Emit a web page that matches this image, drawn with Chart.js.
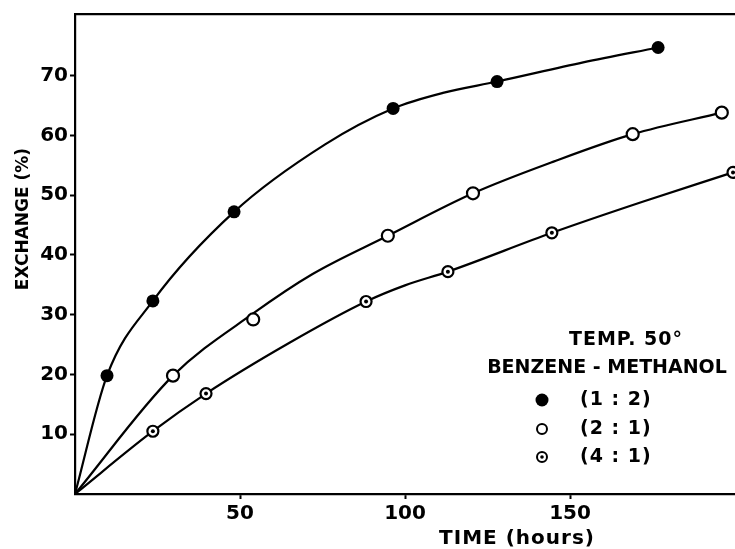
<!doctype html>
<meta charset="utf-8">
<style>
    html, body { margin: 0; padding: 0; background: #fff; }
</style>
<script src="https://cdn.jsdelivr.net/npm/chart.js@4.4.8/dist/chart.umd.min.js"></script>

<canvas id="chart" width="735" height="549"></canvas>

<script>
    // (1:2) filled circles
    const hours12 = [9.7, 23.6, 48.2, 96.4, 127.9, 176.7];
    const exch12 = [19.8, 32.3, 47.2, 64.5, 69, 74.7];
    // (2:1) open circles
    const hours21 = [29.7, 54, 94.8, 120.6, 169, 196];
    const exch21 = [19.8, 29.2, 43.2, 50.3, 60.2, 63.8];
    // (4:1) dotted circles
    const hours41 = [23.6, 39.7, 88.2, 113, 144.5, 199.4];
    const exch41 = [10.5, 16.8, 32.2, 37.2, 43.7, 53.8];

    // hand drawn curves (they start at the origin)
    const curve12X = [0, 9.7, 23.6, 48.2, 75.8, 96.4, 111.5, 127.9, 154, 176.7];
    const curve12Y = [0, 19.8, 32.3, 47.2, 58.5, 64.5, 67.1, 69, 72.2, 74.7];
    const curve21X = [0, 29.7, 54, 72, 94.8, 120.6, 145, 169, 196];
    const curve21Y = [0, 19.8, 30.2, 36.8, 43.2, 50.3, 55.6, 60.2, 63.8];
    const curve41X = [0, 23.6, 39.7, 65, 88.2, 100, 113, 144.5, 172, 199.4];
    const curve41Y = [0, 10.5, 16.8, 25.3, 32.2, 34.9, 37.2, 43.7, 48.9, 53.8];

    const xTicks = [50, 100, 150];
    const yTicks = [10, 20, 30, 40, 50, 60, 70];
    const legendLabels = ["(1 : 2)", "(2 : 1)", "(4 : 1)"];

    const pts = (xs, ys) => xs.map((x, i) => ({x, y: ys[i]}));

    Chart.defaults.font.family = "'DejaVu Sans'";
    Chart.defaults.color = "#000";

    const curve = (xs, ys) => ({
        data: pts(xs, ys),
        borderColor: "#000",
        borderWidth: 2.2,
        pointRadius: 0,
        cubicInterpolationMode: "monotone",
        showLine: true,
        order: 3
    });

    const markers = (xs, ys, o) => Object.assign({
        data: pts(xs, ys),
        showLine: false,
        pointStyle: "circle",
        borderColor: "#000",
        order: 2
    }, o);

    const labelsPlugin = {
        id: "labels",
        afterDraw(chart) {
            const ctx = chart.ctx;
            ctx.save();
            ctx.fillStyle = "#000";
            ctx.textBaseline = "middle";

            // y title
            ctx.save();
            ctx.translate(24, 219);
            ctx.rotate(-Math.PI / 2);
            ctx.textAlign = "center";
            ctx.font = "bold 17px 'DejaVu Sans'";
            ctx.fillText("EXCHANGE (%)", 0, 0);
            ctx.restore();

            // x title
            ctx.textAlign = "center";
            ctx.font = "bold 20px 'DejaVu Sans'";
            ctx.letterSpacing = "1px";
            ctx.fillText("TIME (hours)", 517, 539);

            // legend block
            ctx.font = "bold 19px 'DejaVu Sans'";
            ctx.letterSpacing = "1px";
            ctx.fillText("TEMP. 50°", 626, 340);
            ctx.letterSpacing = "0px";
            ctx.fillText("BENZENE - METHANOL", 607, 368);

            ctx.textAlign = "left";
            ctx.letterSpacing = "1px";
            const rows = [400, 429, 457];
            rows.forEach((y, i) => ctx.fillText(legendLabels[i], 580, y));

            const mx = 542;
            ctx.lineWidth = 2;
            ctx.strokeStyle = "#000";
            ctx.beginPath();
            ctx.arc(mx, rows[0], 6.5, 0, Math.PI * 2);
            ctx.fill();
            ctx.beginPath();
            ctx.arc(mx, rows[1], 5, 0, Math.PI * 2);
            ctx.stroke();
            ctx.beginPath();
            ctx.arc(mx, rows[2], 5, 0, Math.PI * 2);
            ctx.stroke();
            ctx.beginPath();
            ctx.arc(mx, rows[2], 1.8, 0, Math.PI * 2);
            ctx.fill();
            ctx.restore();
        }
    };

    const tickFont = {family: "'DejaVu Sans'", size: 20, weight: "bold"};

    new Chart(document.getElementById("chart"), {
        type: "scatter",
        data: {
            datasets: [
                curve(curve12X, curve12Y),
                curve(curve21X, curve21Y),
                curve(curve41X, curve41Y),
                markers(hours12, exch12, {
                    pointRadius: 6.5, pointBackgroundColor: "#000", pointBorderWidth: 0
                }),
                markers(hours21, exch21, {
                    pointRadius: 6, pointBackgroundColor: "#fff", pointBorderWidth: 2.2
                }),
                markers(hours41, exch41, {
                    pointRadius: 5.5, pointBackgroundColor: "#fff", pointBorderWidth: 2.2
                }),
                markers(hours41, exch41, {
                    pointRadius: 2, pointBackgroundColor: "#000", pointBorderWidth: 0, order: 1
                })
            ]
        },
        options: {
            responsive: false,
            devicePixelRatio: 1,
            animation: false,
            layout: {autoPadding: false, padding: {top: 12, right: 0, left: 0, bottom: 0}},
            plugins: {
                legend: {display: false},
                tooltip: {enabled: false}
            },
            scales: {
                x: {
                    type: "linear",
                    min: 0,
                    max: 200,
                    afterBuildTicks(s) { s.ticks = xTicks.map(v => ({value: v})); },
                    afterFit(s) { s.height = 55; },
                    ticks: {font: tickFont, padding: 3, maxRotation: 0},
                    grid: {drawOnChartArea: false, tickLength: 5, tickColor: "#000", tickWidth: 2},
                    border: {color: "#000", width: 2.2}
                },
                xTop: {
                    type: "linear",
                    position: "top",
                    min: 0,
                    max: 200,
                    afterFit(s) { s.height = 0; },
                    ticks: {display: false},
                    grid: {display: false, drawTicks: false},
                    border: {display: true, color: "#000", width: 2.2}
                },
                y: {
                    min: 0,
                    max: 80.3,
                    afterBuildTicks(s) { s.ticks = yTicks.map(v => ({value: v})); },
                    afterFit(s) { s.width = 75; },
                    ticks: {font: tickFont, padding: 2},
                    grid: {drawOnChartArea: false, tickLength: 5, tickColor: "#000", tickWidth: 2},
                    border: {color: "#000", width: 2.2}
                }
            }
        },
        plugins: [labelsPlugin]
    });
</script>
